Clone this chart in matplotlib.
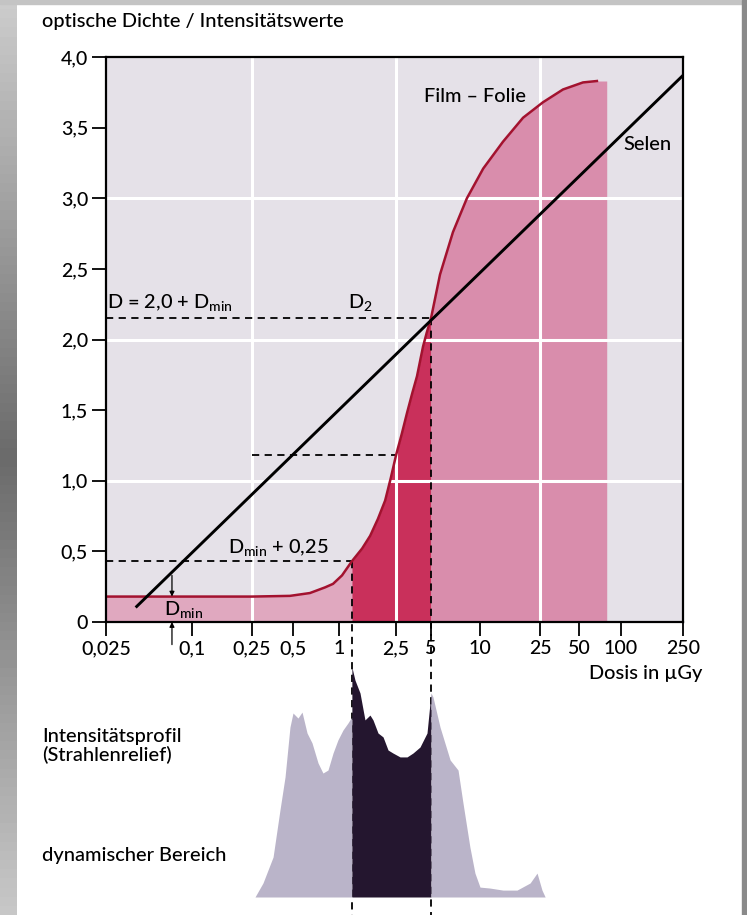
import numpy as np
import matplotlib
matplotlib.use('Agg')
import matplotlib.pyplot as plt
from matplotlib.ticker import NullLocator

plt.rcParams['font.family'] = ['Lato', 'DejaVu Sans']
plt.rcParams['font.weight'] = 'medium'
plt.rcParams['mathtext.fontset'] = 'custom'
plt.rcParams['mathtext.rm'] = 'Lato:medium'
plt.rcParams['mathtext.it'] = 'Lato:italic'
plt.rcParams['mathtext.bf'] = 'Lato:bold'

# dose axis (µGy): tick values and their spacing on the printed axis (px from left)
dose_ticks = [0.025, 0.1, 0.25, 0.5, 1, 2.5, 5, 10, 25, 50, 100, 250]
dose_tick_labels = ['0,025', '0,1', '0,25', '0,5', '1', '2,5', '5', '10', '25', '50', '100', '250']
dose_tick_pos = [0, 86, 146, 187, 233, 290, 325, 374, 434, 473, 515, 577]

density_ticks = [0, 0.5, 1.0, 1.5, 2.0, 2.5, 3.0, 3.5, 4.0]
density_tick_labels = ['0', '0,5', '1,0', '1,5', '2,0', '2,5', '3,0', '3,5', '4,0']

# Film-Folie characteristic curve
film_dose = [0.025, 0.25, 0.475, 0.645, 0.81, 0.914, 1.05, 1.23, 1.45, 1.65, 1.87, 2.10,
             2.30, 2.5, 2.8, 3.11, 3.45, 3.79, 4.27, 4.6, 5.0, 5.68, 6.82, 8.31, 10.5,
             14.2, 19.3, 26.4, 37.6, 53.4, 67.2]
film_density = [0.18, 0.18, 0.185, 0.205, 0.245, 0.27, 0.33, 0.43, 0.52, 0.61, 0.73, 0.86,
                1.02, 1.18, 1.33, 1.48, 1.62, 1.74, 1.95, 2.05, 2.15, 2.46, 2.76, 3.00, 3.21,
                3.40, 3.57, 3.68, 3.77, 3.82, 3.83]
film_fill_end = 79.0

# Selen detector (linear response)
selen_dose = [0.041, 250]
selen_density = [0.11, 3.87]

d_min = 0.18
d_min_025 = 0.43
d_2 = 2.15
d_mid = 1.18
d_mid_dose = 2.5
range_lo = 1.23
range_hi = 5.0

# intensity profile (relative), split at the dynamic range limits
prof_left_dose = [0.263, 0.301, 0.357, 0.401, 0.437, 0.475, 0.5, 0.539, 0.573, 0.618, 0.666,
                  0.729, 0.785, 0.847, 0.914, 0.984, 1.066, 1.156, 1.213, 1.23]
prof_left_height = [0, 0.061, 0.174, 0.378, 0.522, 0.739, 0.800, 0.778, 0.804, 0.713, 0.670,
                    0.583, 0.539, 0.552, 0.626, 0.683, 0.726, 0.757, 0.778, 0.78]
prof_mid_dose = [1.23, 1.23, 1.293, 1.402, 1.518, 1.645, 1.727, 1.872, 2.03, 2.20, 2.38,
                 2.71, 3.11, 3.50, 4.02, 4.62, 4.90, 5.0]
prof_mid_height = [0.78, 1.0, 0.943, 0.887, 0.770, 0.791, 0.770, 0.713, 0.696, 0.639, 0.626,
                   0.609, 0.609, 0.626, 0.652, 0.713, 0.843, 0.887]
prof_right_dose = [5.0, 5.14, 5.68, 6.55, 7.33, 7.86, 8.67, 9.31, 10.0, 11.6, 14.2, 17.6,
                   21.5, 23.9, 25.9, 27.4]
prof_right_height = [0.887, 0.870, 0.739, 0.596, 0.552, 0.409, 0.217, 0.104, 0.043, 0.039,
                     0.030, 0.030, 0.061, 0.104, 0.030, 0]

# piecewise log scale following the printed tick spacing
log_t = np.log10(dose_ticks)
s0 = (dose_tick_pos[1] - dose_tick_pos[0]) / (log_t[1] - log_t[0])
s1 = (dose_tick_pos[-1] - dose_tick_pos[-2]) / (log_t[-1] - log_t[-2])
log_ext = np.concatenate([[-20], log_t, [20]])
pos_ext = np.concatenate([[dose_tick_pos[0] - (log_t[0] + 20) * s0], dose_tick_pos,
                          [dose_tick_pos[-1] + (20 - log_t[-1]) * s1]])


def fwd(x):
    x = np.asarray(x, dtype=float)
    lx = np.log10(np.clip(x, 1e-20, None))
    return np.interp(lx, log_ext, pos_ext)


def inv(p):
    return 10 ** np.interp(np.asarray(p, dtype=float), pos_ext, log_ext)


W, H = 747, 915
FS = 14.4
fig = plt.figure(figsize=(W / 100, H / 100), dpi=100)
fig.patch.set_facecolor('white')

# scan edges
edge = fig.add_axes([0, 0, 17 / W, 1])
grad = np.concatenate([np.linspace(0.80, 0.42, 50), np.linspace(0.42, 0.78, 50)])
edge.imshow(grad[:, None], cmap='gray', vmin=0, vmax=1, aspect='auto', extent=[0, 1, 0, 1])
edge.axis('off')
fig.patches.append(plt.Rectangle((0, 1 - 4 / H), 1, 4 / H, transform=fig.transFigure,
                                 color='#c4c4c4', zorder=0))
fig.patches.append(plt.Rectangle((742 / W, 0), 5 / W, 1, transform=fig.transFigure,
                                 color='#8a8a8a', zorder=0))

ax = fig.add_axes([106 / W, 1 - 622 / H, 577 / W, 565 / H])
ax.set_xscale('function', functions=(fwd, inv))
ax.set_xlim(0.025, 250)
ax.set_ylim(0, 4.0)
ax.set_facecolor('#e5e1e8')

fd = np.array(film_dose + [film_fill_end])
fy = np.array(film_density + [film_density[-1]])

# filled regions under the film curve
m1 = fd <= range_lo
m2 = (fd >= range_lo) & (fd <= range_hi)
m3 = fd >= range_hi
ax.fill_between(fd[m1], 0, fy[m1], color='#e0a8bf', lw=0, zorder=1)
ax.fill_between(fd[m2], 0, fy[m2], color='#c9305b', lw=0, zorder=1)
ax.fill_between(fd[m3], 0, fy[m3], color='#d98dac', lw=0, zorder=1)

# white grid
for gx in [0.25, 2.5, 25]:
    ax.axvline(gx, color='white', lw=2.2, zorder=2)
for gy in [1, 2, 3]:
    ax.axhline(gy, color='white', lw=2.2, zorder=2)

ax.plot(film_dose, film_density, color='#a3122f', lw=1.8, zorder=4, solid_joinstyle='round')
ax.plot(selen_dose, selen_density, color='black', lw=2.1, zorder=5)

# dashed guides
dash = dict(color='black', lw=1.3, ls=(0, (4, 3)), zorder=3)
ax.plot([0.025, range_hi], [d_2, d_2], **dash)
ax.plot([0.25, d_mid_dose], [d_mid, d_mid], **dash)
ax.plot([0.025, range_lo], [d_min_025, d_min_025], **dash)
y_bottom = (622 - H) / 141.25
ax.plot([range_lo, range_lo], [d_min_025, y_bottom], clip_on=False, **dash)
ax.plot([range_hi, range_hi], [d_2, y_bottom], clip_on=False, **dash)

# labels inside the plot
ax.text(9.3, 3.72, 'Film – Folie', ha='center', va='center', fontsize=FS, zorder=6)
ax.text(147, 3.38, 'Selen', ha='center', va='center', fontsize=FS, zorder=6)
ax.text(0.0255, 2.26, 'D = 2,0 + D$_{\\mathrm{min}}$', ha='left', va='center', fontsize=FS, zorder=6)
ax.text(1.40, 2.26, 'D$_2$', ha='center', va='center', fontsize=FS, zorder=6)
ax.text(0.39, 0.53, 'D$_{\\mathrm{min}}$ + 0,25', ha='center', va='center', fontsize=FS, zorder=6)
ax.text(0.088, 0.09, 'D$_{\\mathrm{min}}$', ha='center', va='center', fontsize=FS, zorder=6)

arr = dict(arrowstyle='-|>', color='black', lw=0.9, mutation_scale=7, shrinkA=0, shrinkB=0)
ax.annotate('', xy=(0.0724, d_min), xytext=(0.0724, 0.33), arrowprops=arr, zorder=6)
ax.annotate('', xy=(0.0724, 0), xytext=(0.0724, -0.16), arrowprops=arr,
            annotation_clip=False, zorder=6)

ax.set_xticks(dose_ticks)
ax.set_xticklabels(dose_tick_labels)
ax.xaxis.set_minor_locator(NullLocator())
ax.set_yticks(density_ticks)
ax.set_yticklabels(density_tick_labels)
ax.tick_params(direction='out', length=10, width=1.3, labelsize=14, pad=3)
for sp in ax.spines.values():
    sp.set_linewidth(1.6)
    sp.set_zorder(7)

# intensity profile below
ax2 = fig.add_axes([106 / W, 0, 577 / W, 255 / H], sharex=ax)
ax2.set_ylim(-18 / 230, 237 / 230)
ax2.fill_between(prof_left_dose, 0, prof_left_height, color='#bab4c9', lw=0)
ax2.fill_between(prof_mid_dose, 0, prof_mid_height, color='#24162f', lw=0)
ax2.fill_between(prof_right_dose, 0, prof_right_height, color='#bab4c9', lw=0)
ax2.axis('off')

fig.text(42 / W, 1 - 22 / H, 'optische Dichte / Intensitätswerte', ha='left', va='center', fontsize=FS)
fig.text(702 / W, 1 - 673 / H, 'Dosis in µGy', ha='right', va='center', fontsize=FS)
fig.text(42 / W, 1 - 746 / H, 'Intensitätsprofil\n(Strahlenrelief)', ha='left', va='center',
         fontsize=FS, linespacing=1.1)
fig.text(42 / W, 1 - 855 / H, 'dynamischer Bereich', ha='left', va='center', fontsize=FS)

fig.savefig('out.png', dpi=100)
